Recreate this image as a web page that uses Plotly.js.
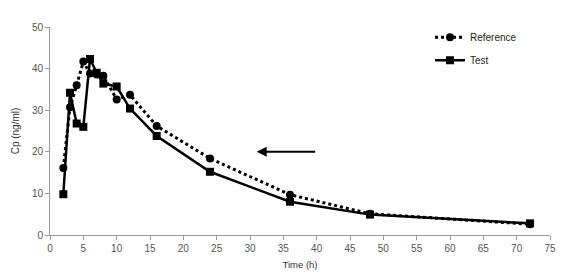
<!DOCTYPE html>
<html>
<head>
<meta charset="utf-8">
<script src="https://cdn.plot.ly/plotly-3.0.1.min.js"></script>
<style>html,body{margin:0;padding:0;background:#fff;}#chart{width:561px;height:276px;}</style>
</head>
<body>
<div id="chart"></div>
<script>
const timeRef = [2, 3, 4, 5, 6, 7, 8, 10, 12, 16, 24, 36, 48, 72];
const cpRef   = [16.1, 30.7, 36.0, 41.7, 38.8, 38.6, 38.3, 32.6, 33.7, 26.2, 18.4, 9.7, 5.1, 2.6];
const timeTest = [2, 3, 4, 5, 6, 7, 8, 10, 12, 16, 24, 36, 48, 72];
const cpTest   = [9.8, 34.2, 26.8, 26.0, 42.3, 39.0, 36.4, 35.7, 30.4, 23.8, 15.2, 8.0, 4.9, 2.8];
const xTicks = [0,5,10,15,20,25,30,35,40,45,50,55,60,65,70,75];
const yTicks = [0,10,20,30,40,50];

const traces = [
  {x: timeRef, y: cpRef, name: 'Reference', legendgroup: 'r', type: 'scatter', mode: 'lines+markers',
   line: {color: '#000', width: 3, dash: 'dot'}, marker: {symbol: 'circle', size: 8, color: '#000'}},
  {x: timeTest, y: cpTest, name: 'Test', legendgroup: 't', type: 'scatter', mode: 'lines+markers',
   line: {color: '#000', width: 2.5}, marker: {symbol: 'square', size: 8, color: '#000'}}
];

const axisCommon = {
  showgrid: false, zeroline: false, showline: true, linecolor: '#999', linewidth: 1,
  ticks: 'outside', ticklen: 4, tickcolor: '#999', tickwidth: 1,
  tickfont: {family: 'Liberation Sans, Arial, sans-serif', size: 10, color: '#555'}
};

const layout = {
  width: 561, height: 276,
  margin: {l: 50, r: 11, t: 27, b: 41},
  paper_bgcolor: '#fff', plot_bgcolor: '#fff',
  font: {family: 'Liberation Sans, Arial, sans-serif', size: 10, color: '#333'},
  xaxis: Object.assign({}, axisCommon, {range: [0, 75], tickvals: xTicks,
    title: {text: 'Time (h)', font: {size: 9.5, color: '#333'}, standoff: 8}}),
  yaxis: Object.assign({}, axisCommon, {range: [0, 50], tickvals: yTicks,
    title: {text: 'Cp (ng/ml)', font: {size: 10, color: '#333'}, standoff: 10}}),
  showlegend: true,
  legend: {x: 0.76, y: 1.02, xanchor: 'left', yanchor: 'top', bgcolor: 'rgba(0,0,0,0)',
    font: {size: 10, color: '#222'}, itemwidth: 30, tracegroupgap: 4, traceorder: 'grouped'},
  annotations: [{
    x: 31, y: 20, ax: 40, ay: 20, xref: 'x', yref: 'y', axref: 'x', ayref: 'y',
    text: '', showarrow: true, arrowhead: 2, arrowsize: 1, arrowwidth: 2, arrowcolor: '#000'
  }]
};

Plotly.newPlot('chart', traces, layout, {displayModeBar: false, staticPlot: true});
</script>
</body>
</html>
